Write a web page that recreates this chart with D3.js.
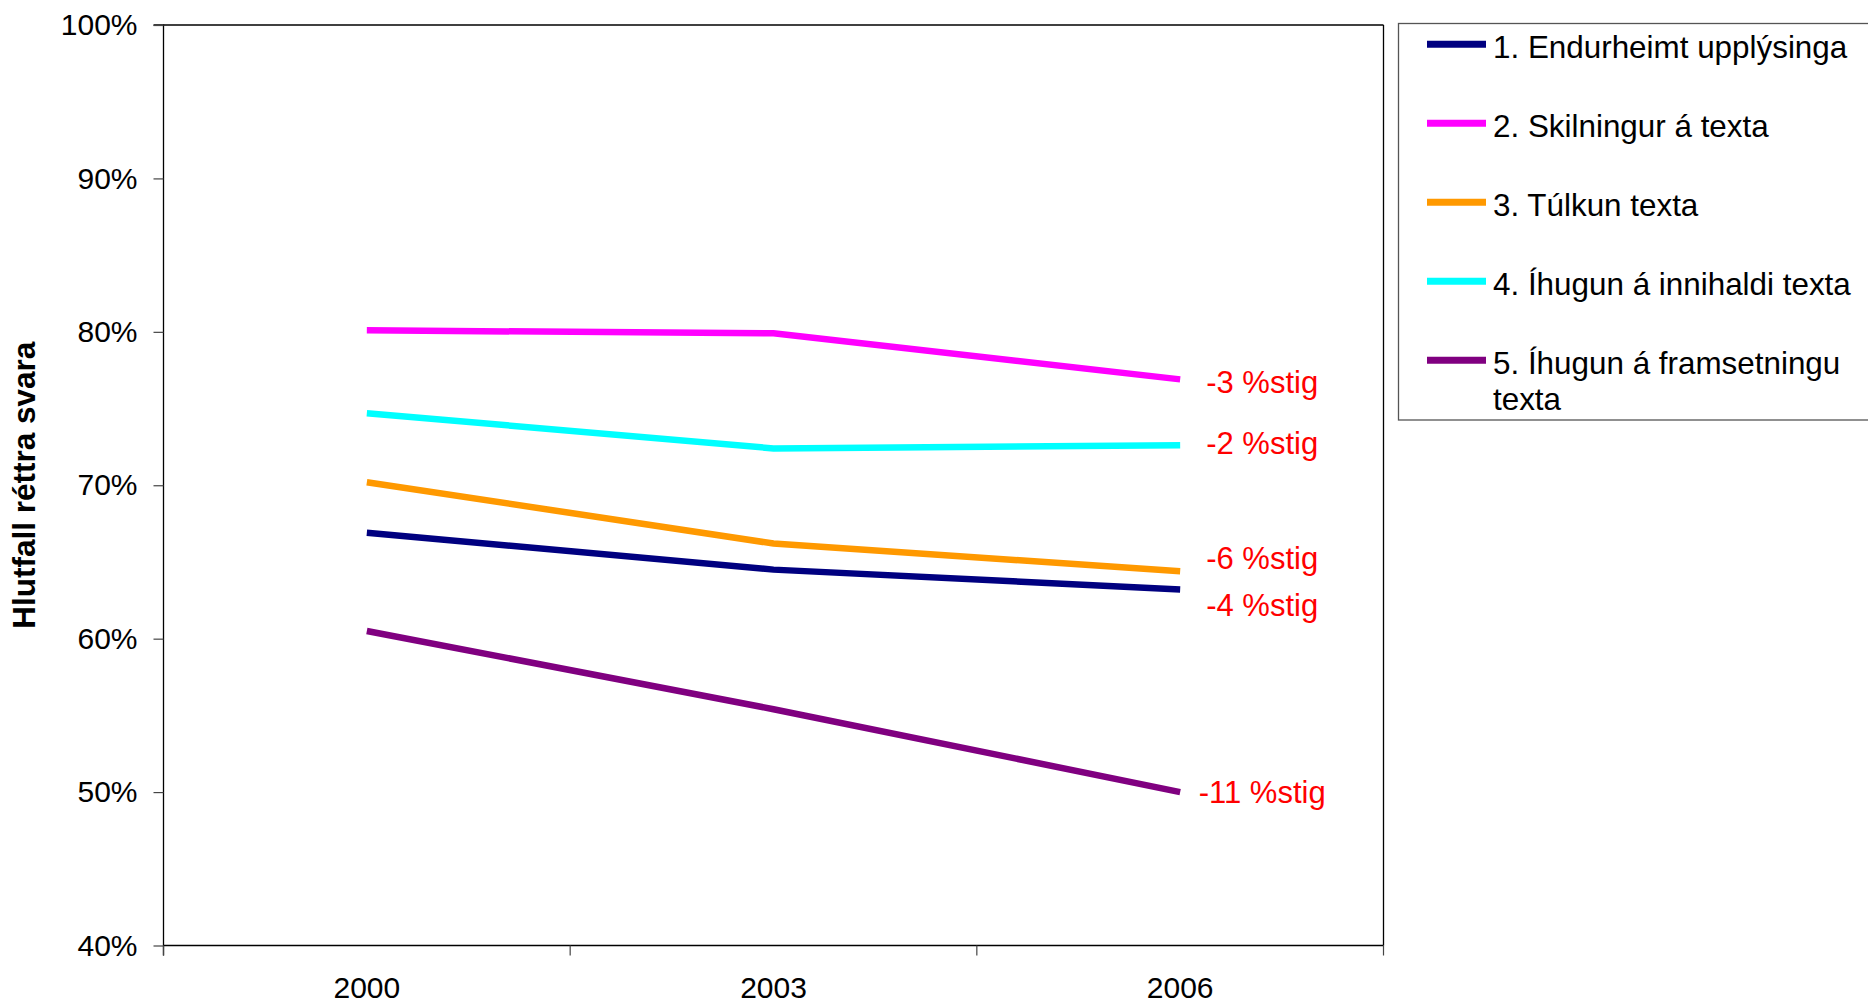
<!DOCTYPE html>
<html>
<head>
<meta charset="utf-8">
<script src="https://cdn.jsdelivr.net/npm/d3@7"></script>
<style>
  html, body { margin: 0; padding: 0; background: #fff; }
  svg { display: block; font-family: "Liberation Sans", Arial, sans-serif; }
</style>
</head>
<body>
<svg id="chart" width="1868" height="1005"></svg>
<script>
// ---- data ----
const years = ["2000", "2003", "2006"];
const seriesNames = [
  "1. Endurheimt upplýsinga",
  "2. Skilningur á texta",
  "3. Túlkun texta",
  "4. Íhugun á innihaldi texta",
  "5. Íhugun á framsetningu texta"
];
const endurheimt = [0.669, 0.645, 0.632];
const skilningur = [0.801, 0.799, 0.769];
const tulkun = [0.702, 0.662, 0.644];
const ihugunInnihald = [0.747, 0.724, 0.726];
const ihugunFramsetning = [0.605, 0.554, 0.500];
const changeLabels = ["-4 %stig", "-3 %stig", "-6 %stig", "-2 %stig", "-11 %stig"];
const yTicks = [0.4, 0.5, 0.6, 0.7, 0.8, 0.9, 1.0];
const yTitle = "Hlutfall réttra svara";

// ---- styles ----
const colors = ["#000080", "#FF00FF", "#FF9900", "#00FFFF", "#800080"];
const labelNudge = [15, 2, -13, -3, 0];
const seriesValues = [endurheimt, skilningur, tulkun, ihugunInnihald, ihugunFramsetning];

const svg = d3.select("#chart");
const L = 163.5, R = 1383.5, T = 25, B = 945.5;

const x = d3.scaleBand().domain(years).range([L, R]).padding(0);
const y = d3.scaleLinear().domain([0.4, 1.0]).range([B, T]);

// frame (top and right)
svg.append("line").attr("x1", L).attr("x2", R).attr("y1", T).attr("y2", T)
  .attr("stroke", "#000").attr("stroke-width", 1.3);
svg.append("line").attr("x1", R).attr("x2", R).attr("y1", T).attr("y2", B)
  .attr("stroke", "#000").attr("stroke-width", 1.3);

// y axis
const yAxis = svg.append("g").attr("transform", `translate(${L},0)`)
  .call(d3.axisLeft(y).tickValues(yTicks).tickFormat(d3.format(".0%")).tickSize(10).tickPadding(16));
yAxis.select(".domain").attr("stroke", "#000").attr("stroke-width", 1.3)
  .attr("d", `M-10,${T}H0V${B + 10}`);
yAxis.selectAll(".tick line").attr("stroke", "#444").attr("stroke-width", 1.2);
yAxis.selectAll("text").attr("font-size", 30).attr("fill", "#000")
  .attr("font-family", "Liberation Sans, Arial, sans-serif");

// x axis
const xAxis = svg.append("g").attr("transform", `translate(0,${B})`)
  .call(d3.axisBottom(x).tickSize(0).tickPadding(31));
xAxis.select(".domain").attr("stroke", "#000").attr("stroke-width", 1.3)
  .attr("d", `M${L},0H${R}`);
xAxis.selectAll("text").attr("font-size", 30).attr("fill", "#000")
  .attr("font-family", "Liberation Sans, Arial, sans-serif");
// tick marks between categories
const boundaries = years.map(d => x(d)).concat([x(years[years.length - 1]) + x.bandwidth()]);
svg.append("g").selectAll("line").data(boundaries).join("line")
  .attr("x1", d => d).attr("x2", d => d).attr("y1", B).attr("y2", B + 10)
  .attr("stroke", "#444").attr("stroke-width", 1.2);

// y title
svg.append("text")
  .attr("transform", `translate(35,${(T + B) / 2}) rotate(-90)`)
  .attr("text-anchor", "middle")
  .attr("font-size", 31.5).attr("font-weight", "bold").attr("fill", "#000")
  .text(yTitle);

// lines
const cx = d => x(d) + x.bandwidth() / 2;
const line = d3.line().x((d, i) => cx(years[i])).y(d => y(d));
svg.append("g").selectAll("path").data(seriesValues).join("path")
  .attr("d", d => line(d))
  .attr("fill", "none")
  .attr("stroke", (d, i) => colors[i])
  .attr("stroke-width", 6.5);

// change labels
const last = years.length - 1;
svg.append("g").selectAll("text").data(seriesValues).join("text")
  .attr("x", cx(years[last]) + 82)
  .attr("y", (d, i) => y(d[last]) + labelNudge[i])
  .attr("dy", "0.36em")
  .attr("text-anchor", "middle")
  .attr("font-size", 31)
  .attr("fill", "#FF0000")
  .text((d, i) => changeLabels[i]);

// legend
const lg = svg.append("g");
lg.append("rect").attr("x", 1398.5).attr("y", 23.5).attr("width", 520).attr("height", 396.5)
  .attr("fill", "#fff").attr("stroke", "#555").attr("stroke-width", 1.3);
seriesNames.forEach((name, i) => {
  const base = 58.3 + i * 79;
  lg.append("line").attr("x1", 1427).attr("x2", 1486)
    .attr("y1", base - 14).attr("y2", base - 14)
    .attr("stroke", colors[i]).attr("stroke-width", 7);
  const t = lg.append("text").attr("x", 1493).attr("y", base)
    .attr("font-size", 31.4).attr("fill", "#000");
  if (i === 4) {
    t.append("tspan").attr("x", 1493).text("5. Íhugun á framsetningu");
    t.append("tspan").attr("x", 1493).attr("dy", 35.6).text("texta");
  } else {
    t.text(name);
  }
});
</script>
</body>
</html>
